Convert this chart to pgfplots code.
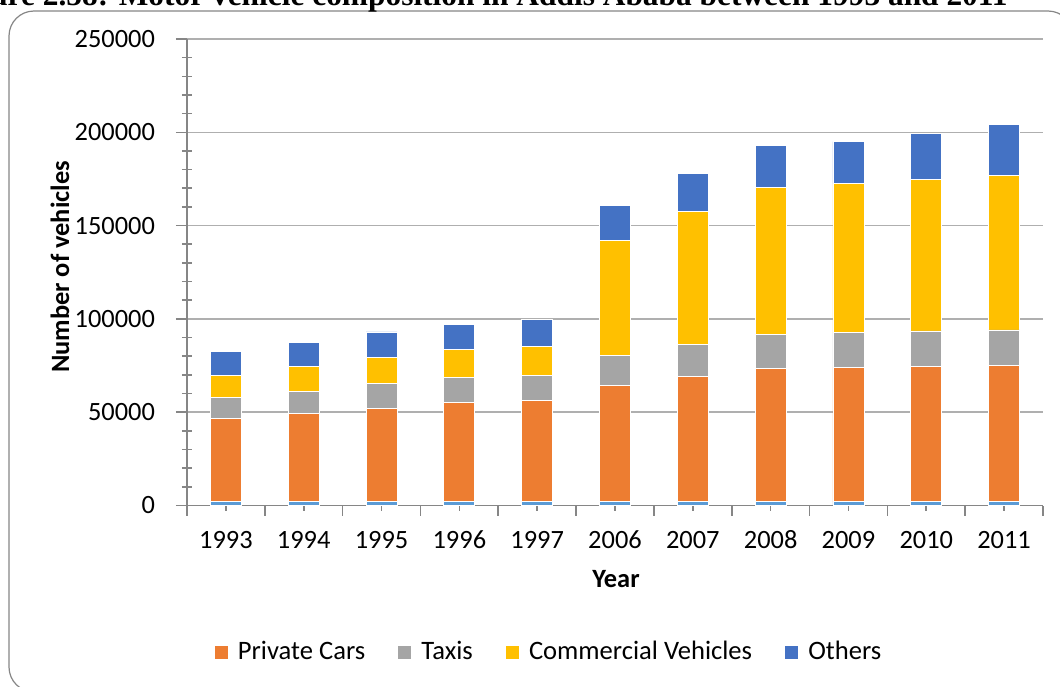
\documentclass[border=0pt]{standalone}
\usepackage{fontspec}
\setmainfont[Numbers=Lining]{Carlito}
\newfontfamily\titlefont{Liberation Serif}
\usepackage{pgfplots}
\usepackage{pgfplotstable}
\pgfplotsset{compat=1.18}

\definecolor{yrblue}{HTML}{5B9BD5}
\definecolor{cprivate}{HTML}{ED7D31}
\definecolor{ctaxi}{HTML}{A5A5A5}
\definecolor{ccomm}{HTML}{FFC000}
\definecolor{cother}{HTML}{4472C4}
\definecolor{axgray}{RGB}{134,134,134}
\definecolor{gridgray}{RGB}{175,175,175}

% x  year  private  taxis  commercial  others
\pgfplotstableread{
x yr   priv  taxi  comm  oth
0 1993 44690 11030 12150 12470
1 1994 47360 11780 13170 13060
2 1995 50040 13170 14130 13700
3 1996 53030 13380 14990 13760
4 1997 54470 13390 15360 14450
5 2006 62130 16120 61830 18500
6 2007 67340 17040 71130 20590
7 2008 71480 18060 78700 22580
8 2009 71970 18730 79770 22470
9 2010 72500 19060 81370 24300
10 2011 73040 19050 82980 26970
}\vehicles

\begin{document}
\begin{tikzpicture}
\path[use as bounding box, clip] (0,0) rectangle (530pt,-343pt);

% frame of the chart
\draw[axgray, line width=0.6pt, rounded corners=12.5pt] (4.5pt,-5.5pt) rectangle (536.5pt,-346pt);

% cut-off caption above the chart
\node[anchor=base east, inner sep=0pt, font=\titlefont\bfseries\fontsize{15.7}{18}\selectfont]
  at (504pt,-2.5pt) {Figure 2.58: Motor vehicle composition in Addis Ababa between 1993 and 2011};

\begin{axis}[
  at={(93.5pt,-252.75pt)}, anchor=south west,
  width=428pt, height=233.25pt, scale only axis,
  ybar stacked, bar width=15.5pt,
  xmin=-0.5, xmax=10.5, ymin=0, ymax=250000,
  axis x line=bottom, axis y line=left,
  axis line style={-, axgray, line width=0.8pt},
  font=\fontsize{13.2}{15}\selectfont,
  xtick={0,...,10},
  xticklabels={1993,1994,1995,1996,1997,2006,2007,2008,2009,2010,2011},
  minor xtick={-0.5,0.5,...,10.5},
  ytick={0,50000,...,250000},
  minor y tick num=4,
  tick align=outside,
  major tick length=5.5pt, minor tick length=5pt,
  major x tick style={axgray, line width=0.8pt, yshift=2.9pt},
  minor x tick style={axgray, line width=0.8pt},
  major y tick style={axgray, line width=0.8pt},
  minor y tick style={axgray, line width=0.8pt, xshift=2.5pt},
  scaled y ticks=false,
  yticklabel style={/pgf/number format/fixed, /pgf/number format/1000 sep={}, xshift=-7pt},
  xticklabel style={text height=0.66em, text depth=0pt, yshift=-5.8pt},
  /pgf/number format/assume math mode=true,
  ymajorgrids, grid style={gridgray, line width=0.8pt},
  legend columns=4,
  legend style={at={(axis description cs:0.0315,-0.314)}, anchor=west,
    draw=none, fill=none, inner sep=0pt, outer sep=0pt,
    font=\fontsize{13.3}{15}\selectfont,
    nodes={inner xsep=4.6pt},
    /tikz/every even column/.append style={column sep=11.5pt}},
  legend image code/.code={\fill[#1] (0pt,-3.5pt) rectangle (7pt,3.5pt);},
]
\addplot[fill=yrblue, draw=white, line width=0.4pt, forget plot] table[x=x, y=yr] {\vehicles};
\addplot[fill=cprivate, draw=white, line width=0.4pt] table[x=x, y=priv] {\vehicles};
\addlegendentry{Private Cars}
\addplot[fill=ctaxi, draw=white, line width=0.4pt] table[x=x, y=taxi] {\vehicles};
\addlegendentry{Taxis}
\addplot[fill=ccomm, draw=white, line width=0.4pt] table[x=x, y=comm] {\vehicles};
\addlegendentry{Commercial Vehicles}
\addplot[fill=cother, draw=white, line width=0.4pt] table[x=x, y=oth] {\vehicles};
\addlegendentry{Others}
\end{axis}

\node[rotate=90, font=\bfseries\fontsize{13.2}{15}\selectfont] at (30pt,-133.5pt) {Number of vehicles};
\node[font=\bfseries\fontsize{13.2}{15}\selectfont] at (308pt,-289.5pt) {Year};
\end{tikzpicture}
\end{document}
